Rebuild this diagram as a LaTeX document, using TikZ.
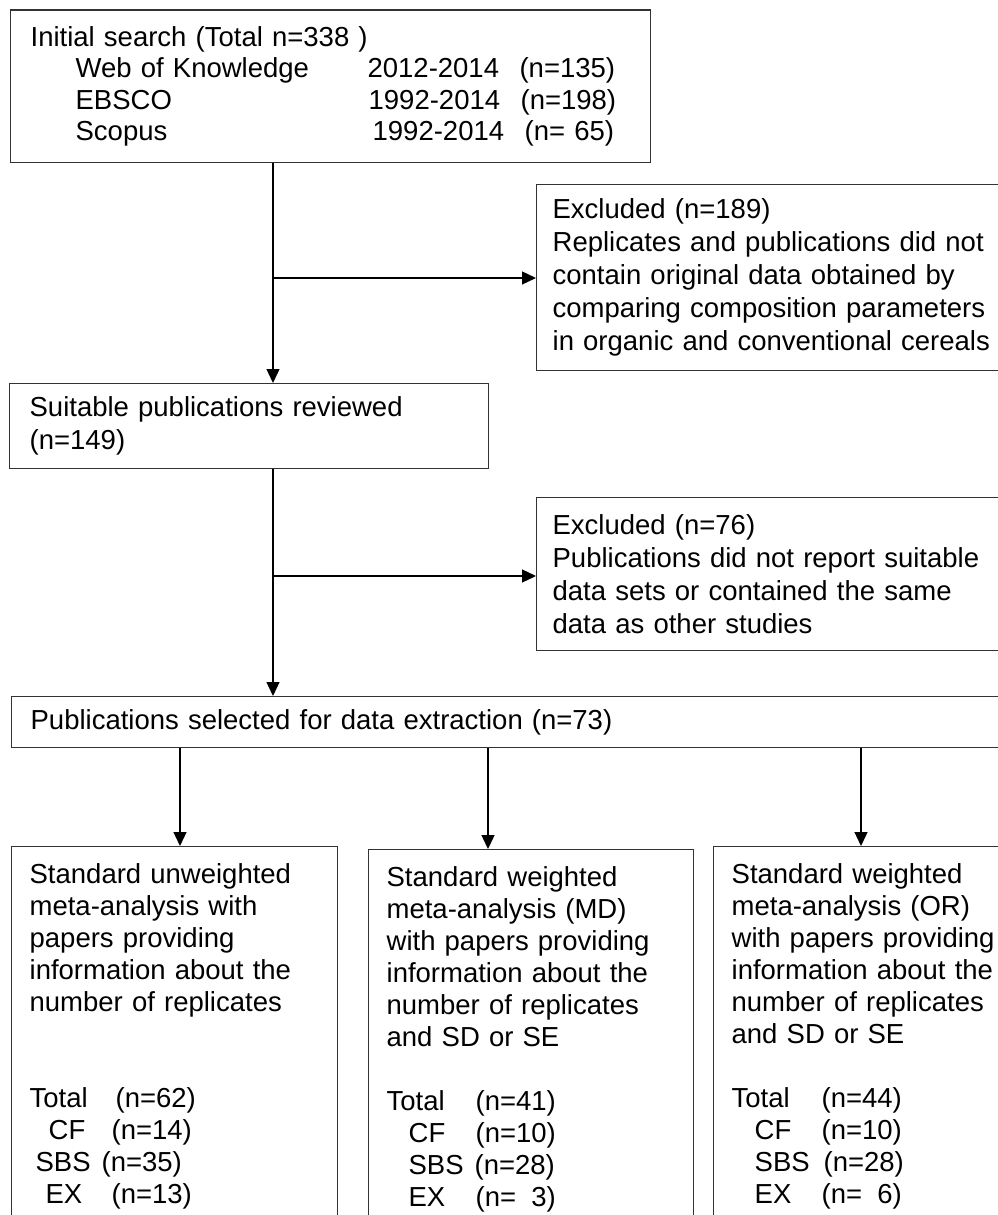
\documentclass[tikz,border=0pt]{standalone}
\usepackage{fontspec}
\setmainfont{Liberation Sans}
\usetikzlibrary{arrows.meta, positioning}

% one database row of the search box, one count row of an analysis box
\newcommand{\dbrow}[4]{\hspace*{45pt}\makebox[#4][l]{#1}\makebox[152pt][l]{#2}#3}
\newcommand{\tally}[4]{\makebox[#1][l]{\hspace*{#2}#3}#4}

\begin{document}
\begin{tikzpicture}[x=1pt, y=-1pt,
  box/.style={rectangle, draw=black!80, line width=1.3pt, align=left, inner xsep=18pt, inner ysep=0pt, anchor=north west, font=\fontsize{27.5}{33}\selectfont},
  search/.style={box, text width=600pt, minimum height=152.5pt, inner xsep=20pt, font=\fontsize{27.5}{31.5}\selectfont},
  excluded/.style={box, text width=470pt, inner xsep=16pt},
  analysis/.style={box, inner ysep=17pt, font=\fontsize{27.5}{32}\selectfont},
  arrow/.style={line width=1.3pt, -{Triangle[length=14pt, width=13pt]}}]

  \useasboundingbox (0,0) rectangle (998,1215);
  \clip (0,0) rectangle (998,1215);

  % Nodes
  \node (search) [search] at (10,9.5) {Initial search (Total n=338 )\\
    \dbrow{Web of Knowledge}{2012-2014}{(n=135)}{292pt}\\
    \dbrow{EBSCO}{1992-2014}{(n=198)}{293pt}\\
    \dbrow{Scopus}{1992-2014}{(n=\ 65)}{297pt}};
  \node (excluded1) [excluded, minimum height=186pt] at (536,184) {Excluded (n=189)\\
    Replicates and publications did not\\
    contain original data obtained by\\
    comparing composition parameters\\
    in organic and conventional cereals};
  \node (reviewed) [box, text width=439pt, inner xsep=20pt, minimum height=85pt] at (9,383) {Suitable publications reviewed\\(n=149)};
  \node (excluded2) [excluded, minimum height=153pt] at (536,497) {Excluded (n=76)\\
    Publications did not report suitable\\
    data sets or contained the same\\
    data as other studies};
  \node (selected) [box, text width=1000pt, inner xsep=19pt, minimum height=51pt] at (11,696) {Publications selected for data extraction (n=73)};

  \node (unweighted) [analysis, text width=290pt] at (11,846) {Standard unweighted\\
    meta-analysis with\\ papers providing\\ information about the\\ number of replicates\\
    \mbox{}\\ \mbox{}\\
    \tally{86pt}{0pt}{Total}{(n=62)}\\
    \tally{82pt}{19pt}{CF}{(n=14)}\\
    \tally{72pt}{6pt}{SBS}{(n=35)}\\
    \tally{82pt}{16pt}{EX}{(n=13)}};
  \node (weightedmd) [analysis, text width=289pt] at (368,849) {Standard weighted\\
    meta-analysis (MD)\\ with papers providing\\ information about the\\ number of replicates\\ and SD or SE\\
    \mbox{}\\
    \tally{89pt}{0pt}{Total}{(n=41)}\\
    \tally{89pt}{22pt}{CF}{(n=10)}\\
    \tally{88pt}{22pt}{SBS}{(n=28)}\\
    \tally{89pt}{22pt}{EX}{(n=\hphantom{0}3)}};
  \node (weightedor) [analysis, text width=300pt] at (713,846) {Standard weighted\\
    meta-analysis (OR)\\ with papers providing\\ information about the\\ number of replicates\\ and SD or SE\\
    \mbox{}\\
    \tally{90pt}{0pt}{Total}{(n=44)}\\
    \tally{90pt}{23pt}{CF}{(n=10)}\\
    \tally{92pt}{23pt}{SBS}{(n=28)}\\
    \tally{90pt}{23pt}{EX}{(n=\hphantom{0}6)}};

  % Branch points
  \coordinate (trunk1) at (273,278);
  \coordinate (trunk2) at (273,576);
  \coordinate (tapA) at (180,0);
  \coordinate (tapB) at (488,0);
  \coordinate (tapC) at (861,0);

  % Arrows
  \draw [arrow] (search.south -| trunk1) -- (reviewed.north -| trunk1);
  \draw [arrow] (trunk1) -- (trunk1 -| excluded1.west);
  \draw [arrow] (reviewed.south -| trunk2) -- (selected.north -| trunk2);
  \draw [arrow] (trunk2) -- (trunk2 -| excluded2.west);
  \draw [arrow] (selected.south -| tapA) -- (unweighted.north -| tapA);
  \draw [arrow] (selected.south -| tapB) -- (weightedmd.north -| tapB);
  \draw [arrow] (selected.south -| tapC) -- (weightedor.north -| tapC);

\end{tikzpicture}
\end{document}
